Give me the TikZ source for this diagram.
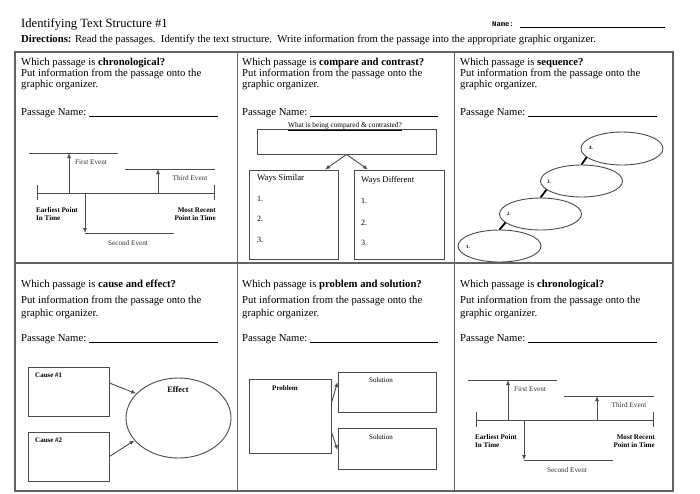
\documentclass[tikz,border=0pt]{standalone}
\usepackage{fontspec}
\setmainfont{Liberation Serif}
\setmonofont{Liberation Mono}
\usetikzlibrary{shapes.geometric, arrows.meta, positioning}
\definecolor{rulegray}{RGB}{100, 100, 100}
\definecolor{inkgray}{RGB}{75, 75, 75}

\tikzset{
  tip/.style={-{Latex[length=5pt, width=4pt]}},
  tline/.style={draw=inkgray, line width=0.9pt},
  evtext/.style={inner sep=0, font=\fontsize{7.2}{8}\selectfont, text=black!80},
  endtext/.style={inner sep=0, font=\fontsize{7.1}{8.2}\selectfont\bfseries},
  pics/timeline/.style={code={
    \coordinate (-start) at (0,0);
    \coordinate (-end) at (177,0);
    \draw[tline] (-start) -- (-end);
    \draw[tline] (-start) ++(0,-8) -- ++(0,15);
    \draw[tline] (-end) ++(0,-8) -- ++(0,15);
    % first event (up)
    \coordinate (-f0) at (32,0);
    \coordinate (-f1) at (32,-40);
    \draw[tline] (-8,-40) -- (81,-40);
    \draw[tline, tip] (-f0) -- (-f1);
    \node[evtext] (-flbl) at (54,-31) {First Event};
    % second event (down)
    \coordinate (-s0) at (48,0);
    \coordinate (-s1) at (48,40);
    \draw[tline, tip] (-s0) -- (-s1);
    \draw[tline] (-s1) -- (137,40);
    \node[evtext] (-slbl) at (91,50) {Second Event};
    % third event (up)
    \coordinate (-t0) at (121,0);
    \coordinate (-t1) at (121,-24);
    \draw[tline] (88,-24) -- (178,-24);
    \draw[tline, tip] (-t0) -- (-t1);
    \node[evtext] (-tlbl) at (153,-15) {Third Event};
    \node[endtext, align=left, anchor=west] (-early) at (-1,21) {Earliest Point\\In Time};
    \node[endtext, align=right, anchor=east] (-late) at (179,21) {Most Recent\\Point in Time};
  }}
}

\begin{document}
\begin{tikzpicture}[x=1pt, y=-1pt,
    qtext/.style={anchor=base west, inner sep=0, font=\fontsize{10.7}{12}\selectfont},
    box/.style={draw=inkgray, line width=0.9pt, inner sep=0},
    seqoval/.style={ellipse, draw=inkgray, line width=0.9pt, inner sep=0, minimum width=82pt, minimum height=32pt},
    seqnum/.style={inner sep=0, font=\fontsize{5}{6}\selectfont\bfseries},
    link/.style={draw=black, line width=1.8pt}]
  \useasboundingbox (0,0) rectangle (700,493);

  % heading
  \node[anchor=base west, inner sep=0, font=\fontsize{12.6}{14}\selectfont] (title) at (21,27) {Identifying Text Structure \#1};
  \node[anchor=base west, inner sep=0, font=\ttfamily\bfseries\fontsize{7.2}{8}\selectfont] (name) at (492,26) {Name:};
  \draw[line width=0.6pt] ([xshift=6pt,yshift=-1pt]name.base east) -- (665,27);
  \node[anchor=base west, inner sep=0, font=\fontsize{10.7}{12}\selectfont] (dirs) at (21,42)
    {\textbf{Directions:} Read the passages.\ \ Identify the text structure.\ \ Write information from the passage into the appropriate graphic organizer.};

  % table
  \draw[draw=rulegray, line width=1.2pt] (15,52) rectangle (673,491);
  \draw[draw=rulegray, line width=1.2pt] (15,263) -- (673,263);
  \draw[draw=rulegray, line width=1pt] (237,52) -- (237,491);
  \draw[draw=rulegray, line width=1pt] (454,52) -- (454,491);

  % cell heads, top row
  \foreach \cx/\topic/\lend [count=\i] in {21/chronological?/218, 242/compare and contrast?/438, 460/sequence?/657} {
    \node[qtext] (q\i) at (\cx,65) {Which passage is \textbf{\topic}};
    \node[qtext] (put\i) at (\cx,76.5) {Put information from the passage onto the};
    \node[qtext] (org\i) at (\cx,87) {graphic organizer.};
    \node[qtext] (pn\i) at (\cx,115) {Passage Name:};
    \draw[line width=0.5pt] ([xshift=3pt,yshift=-1.5pt]pn\i.base east) -- (\lend,116.5);
  }
  % cell heads, bottom row
  \foreach \cx/\topic/\lend [count=\i from 4] in {21/cause and effect?/218, 242/problem and solution?/438, 460/chronological?/657} {
    \node[qtext] (q\i) at (\cx,287.5) {Which passage is \textbf{\topic}};
    \node[qtext] (put\i) at (\cx,303) {Put information from the passage onto the};
    \node[qtext] (org\i) at (\cx,316.5) {graphic organizer.};
    \node[qtext] (pn\i) at (\cx,341) {Passage Name:};
    \draw[line width=0.5pt] ([xshift=3pt,yshift=-1.5pt]pn\i.base east) -- (\lend,342.5);
  }

  % chronological timelines
  \pic (tla) at (37,193) {timeline};
  \pic (tlb) at (476,420) {timeline};

  % compare and contrast
  \node[box, minimum width=179pt, minimum height=25pt] (what) at (346.5,141.5) {};
  \node[anchor=base, inner sep=0, font=\fontsize{7.3}{8}\selectfont] (whatlbl) at (345,127.5) {\underline{What is being compared \& contrasted?}};
  \node[box, minimum width=89pt, minimum height=89pt] (sim) at (293.5,214.5) {};
  \node[box, minimum width=90pt, minimum height=89pt] (dif) at (399,214.5) {};
  \draw[draw=inkgray, line width=0.9pt, tip] (what.south) -- ([xshift=31.5pt]sim.north);
  \draw[draw=inkgray, line width=0.9pt, tip] (what.south) -- ([xshift=-31pt]dif.north);
  \node[qtext, font=\fontsize{8.7}{10}\selectfont] (simlbl) at (257,180.5) {Ways Similar};
  \node[qtext, font=\fontsize{8.7}{10}\selectfont] (diflbl) at (361,182.5) {Ways Different};
  \foreach \n/\sy/\dy in {1/201/203, 2/221/225, 3/242/245} {
    \node[qtext, font=\fontsize{8}{10}\selectfont] (sim\n) at (257,\sy) {\n.};
    \node[qtext, font=\fontsize{8}{10}\selectfont] (dif\n) at (361,\dy) {\n.};
  }

  % sequence
  \node[seqoval, minimum width=83pt] (e1) at (499.5,246) {};
  \node[seqoval] (e2) at (540.5,214) {};
  \node[seqoval] (e3) at (581.5,181) {};
  \node[seqoval, minimum height=33pt] (e4) at (622,148.5) {};
  \foreach \n/\lx/\ly in {1/468/247, 2/509/214, 3/549/182, 4/591/148} {
    \node[seqnum] (n\n) at (\lx,\ly) {\n.};
  }
  \draw[link] (e1.north) -- (e2.194);
  \draw[link] (e2.north) -- (e3.194);
  \draw[link] (e3.north) -- (e4.194);

  % cause and effect
  \node[box, minimum width=81pt, minimum height=49pt] (c1) at (68.5,391.5) {};
  \node[box, minimum width=81pt, minimum height=49pt] (c2) at (68.5,456.5) {};
  \node[ellipse, box, minimum width=105pt, minimum height=80pt] (effect) at (178.5,418) {};
  \node[qtext, font=\fontsize{7}{8}\selectfont\bfseries] (c1lbl) at (35,377.5) {Cause \#1};
  \node[qtext, font=\fontsize{7}{8}\selectfont\bfseries] (c2lbl) at (35,442.5) {Cause \#2};
  \node[anchor=base, inner sep=0, font=\fontsize{8.3}{10}\selectfont\bfseries] (efflbl) at (178,392) {Effect};
  \draw[draw=inkgray, line width=0.9pt, tip] ([yshift=8.5pt]c1.east) -- (effect.150);
  \draw[draw=inkgray, line width=0.9pt, tip] (c2.east) -- (effect.207);

  % problem and solution
  \node[box, minimum width=82pt, minimum height=74pt] (prob) at (290,416) {};
  \node[box, minimum width=98pt, minimum height=40pt] (sol1) at (387,392) {};
  \node[box, minimum width=98pt, minimum height=41pt] (sol2) at (387,448.5) {};
  \node[anchor=base, inner sep=0, font=\fontsize{7}{8}\selectfont\bfseries] (problbl) at (285,390.5) {Problem};
  \node[anchor=base, inner sep=0, font=\fontsize{7}{8}\selectfont] (sol1lbl) at (381,382.5) {Solution};
  \node[anchor=base, inner sep=0, font=\fontsize{7}{8}\selectfont] (sol2lbl) at (381,439.5) {Solution};
  \draw[draw=inkgray, line width=0.9pt, tip] ([yshift=13pt]prob.east) -- ([yshift=10pt]sol1.west);
  \draw[draw=inkgray, line width=0.9pt, tip] ([yshift=-16pt]prob.east) -- ([yshift=-1.5pt]sol2.west);
\end{tikzpicture}
\end{document}
